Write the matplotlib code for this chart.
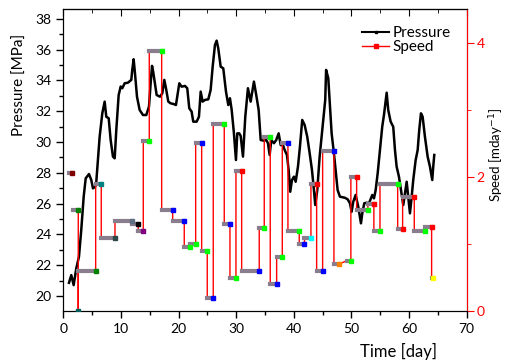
import numpy as np
import matplotlib
matplotlib.use("Agg")
from matplotlib import pyplot as plt
from matplotlib.ticker import MultipleLocator
from matplotlib.lines import Line2D

plt.rcParams['font.family'] = ['Lato', 'DejaVu Sans']

#Pressure data (day, MPa)
day = [0.99, 1.39, 1.8, 2.26, 2.72, 3.12, 3.54, 3.89, 4.46, 4.86, 5.15, 5.55, 5.73,
	6.31, 6.77, 7.18, 7.46, 7.88, 8.22, 8.62, 8.92, 9.2, 9.61, 9.96, 10.24, 10.65,
	11.22, 11.8, 11.97, 12.21, 12.44, 12.79, 13.25, 13.83, 14.4, 14.87, 15.16, 15.4,
	15.6, 15.9, 16.2, 16.78, 17.18, 17.53, 17.82, 18.22, 18.63, 19.09, 19.55, 19.95,
	20.13, 20.54, 21.11, 21.51, 21.86, 22.27, 22.55, 23.14, 23.54, 23.84, 24.18, 24.58,
	25.16, 25.57, 25.92, 26.32, 26.61, 26.89, 27.31, 27.76, 28.23, 28.63, 28.92, 29.22,
	29.61, 29.96, 30.19, 30.53, 30.78, 31.18, 31.58, 32.04, 32.51, 33.08, 33.48, 33.9,
	34.25, 34.82, 35.22, 35.51, 35.81, 36.09, 36.55, 36.95, 37.37, 37.72, 38.12, 38.41,
	38.81, 39.1, 39.38, 39.68, 40.02, 40.32, 40.72, 41.06, 41.46, 41.88, 42.33, 42.75,
	43.15, 43.49, 43.72, 44.07, 44.48, 45.06, 45.45, 45.6, 45.75, 45.98, 46.27, 46.56,
	46.96, 47.31, 47.6, 48.0, 48.87, 49.34, 49.74, 50.03, 50.31, 50.73, 51.18, 51.65,
	51.88, 52.22, 52.64, 53.04, 53.38, 53.61, 53.91, 54.2, 54.55, 54.95, 55.34, 55.64,
	55.93, 56.11, 56.38, 56.8, 57.25, 57.55, 57.84, 58.24, 58.59, 58.99, 59.29, 59.58,
	59.85, 60.15, 60.45, 60.72, 61.14, 61.49, 61.76, 62.06, 62.35, 62.75, 63.22, 63.62,
	64.02, 64.19, 64.37]
pressure = [20.86, 21.36, 20.71, 21.8, 22.55, 24.29, 26.45, 27.64, 27.92, 27.53, 26.99, 27.1, 27.42,
	30.34, 31.86, 32.62, 31.64, 31.54, 30.13, 29.05, 28.94, 30.78, 33.05, 33.6, 33.49, 33.81,
	33.85, 34.03, 34.68, 35.37, 34.46, 32.94, 32.08, 31.75, 31.75, 32.29, 33.81, 34.94,
	34.56, 33.81, 33.05, 32.94, 33.16, 34.03, 33.49, 32.62, 32.51, 32.47, 32.4, 33.38,
	33.81, 33.59, 33.64, 33.49, 32.19, 31.97, 31.32, 31.32, 31.64, 33.27, 32.62, 32.73,
	32.77, 33.38, 34.89, 36.3, 36.58, 36.08, 34.89, 34.78, 33.27, 32.4, 32.84, 32.08,
	30.56, 28.83, 30.56, 30.56, 30.39, 29.05, 31.64, 33.49, 32.62, 33.92, 33.05, 32.08,
	30.13, 30.08, 30.13, 29.92, 29.16, 30.13, 29.92, 30.13, 30.56, 29.8, 29.8, 29.48,
	29.16, 28.18, 26.77, 27.53, 27.75, 27.42, 28.4, 29.69, 31.43, 31.1, 30.34, 29.27,
	28.18, 26.88, 25.91, 26.88, 29.05, 31.21, 32.73, 34.68, 34.46, 34.14, 32.29, 30.56,
	29.27, 27.97, 26.88, 26.45, 26.38, 26.28, 26.02, 25.47, 26.12, 26.56, 25.8, 24.72,
	25.37, 26.02, 26.06, 26.02, 26.34, 26.56, 26.34, 26.88, 27.97, 29.48, 30.99, 31.75,
	32.62, 33.2, 32.08, 31.32, 30.99, 29.48, 28.4, 27.75, 26.88, 25.91, 26.67, 27.42,
	26.45, 25.37, 26.45, 27.53, 28.83, 29.48, 30.78, 31.86, 31.64, 30.34, 29.05, 28.4,
	27.53, 28.4, 29.16]

#Speed data (steps: start day, end day, m/day)
speed_start = [0.95, 1.72, 2.6, 2.6, 5.62, 6.59, 8.97, 11.92, 13.0, 13.88, 14.92, 17.07,
	18.98, 20.99, 21.95, 22.97, 24.01, 24.98, 26.02, 27.93, 28.92, 29.96, 30.95, 34.0,
	34.87, 35.91, 37.02, 38.0, 38.98, 40.94, 41.85, 42.97, 43.96, 45.0, 46.96, 49.17,
	49.9, 50.9, 52.85, 53.89, 54.95, 58.02, 58.88, 60.9, 62.84, 63.91]
speed_end = [1.48, 2.6, 2.6, 5.62, 6.59, 8.97, 11.92, 13.0, 13.88, 14.92, 17.07, 18.98,
	20.99, 21.95, 22.97, 24.01, 24.98, 26.02, 27.93, 28.92, 29.96, 30.95, 34.0, 34.87,
	35.91, 37.02, 38.0, 38.98, 40.94, 41.85, 42.97, 43.96, 45.0, 46.96, 47.83, 49.9,
	50.9, 52.85, 53.89, 54.95, 58.02, 58.88, 60.9, 62.84, 63.91, 64.2]
speed = [2.055, 1.5, 0.0, 0.6, 1.9, 1.09, 1.35, 1.3, 1.2, 2.54, 3.88, 1.5,
	1.35, 0.95, 1.0, 2.5, 0.9, 0.2, 2.79, 1.3, 0.5, 2.09, 0.6, 1.24,
	2.6, 0.4, 0.8, 2.5, 1.2, 1.0, 1.09, 1.9, 0.6, 2.39, 0.7, 0.75,
	2.0, 1.5, 1.6, 1.2, 1.9, 1.22, 1.7, 1.2, 1.25, 0.5]
speed_color = ['#800000', '#008000', '#006060', '#008000', '#008080', '#304848', '#607080', '#000000',
	'#800080', '#00ff00', '#00ff00', '#0000ff', '#0000ff', '#00ff00', '#00ff00', '#0000ff',
	'#00ff00', '#0000ff', '#00ff00', '#0000ff', '#00ff00', '#ff0000', '#0000ff', '#00ff00',
	'#00ff00', '#0000ff', '#00ff00', '#0000ff', '#00ff00', '#0000ff', '#00ffff', '#ff0000',
	'#0000ff', '#0000ff', '#ff8000', '#00ff00', '#ff0000', '#00ff00', '#ff0000', '#00ff00',
	'#00ff00', '#ff0000', '#ff0000', '#00ff00', '#ff0000', '#ffff00']

fig = plt.figure(figsize=(5.05, 3.61), dpi=100)
ax = fig.add_axes([0.1253, 0.1385, 0.7989, 0.8352])
ax.plot(day, pressure, color='k', lw=1.8)
ax.set_xlim(0, 70)
ax.set_ylim(19.03, 38.6)
ax.xaxis.set_major_locator(MultipleLocator(10))
ax.xaxis.set_minor_locator(MultipleLocator(5))
ax.yaxis.set_major_locator(MultipleLocator(2))
ax.yaxis.set_minor_locator(MultipleLocator(1))
ax.tick_params(which='major', direction='out', length=5, width=1, labelsize=10)
ax.tick_params(which='minor', direction='out', length=3, width=1)
ax.set_xlabel("Time [day]", fontsize=12)
ax.xaxis.set_label_coords(0.83, -0.105)
ax.set_ylabel("Pressure [MPa]", fontsize=11)
ax.yaxis.set_label_coords(-0.09, 0.75)

top = ax.secondary_xaxis('top')
top.xaxis.set_major_locator(MultipleLocator(10))
top.xaxis.set_minor_locator(MultipleLocator(5))
top.tick_params(which='major', direction='in', length=5, labeltop=False)
top.tick_params(which='minor', direction='in', length=3)

ax2 = ax.twinx()
ax2.set_ylim(0, 4.5)
ax2.set_xlim(0, 70)
# red connecting line (first short step stands alone)
lx = []
ly = []
for s, e, v in zip(speed_start[1:], speed_end[1:], speed[1:]):
	lx += [s, e]
	ly += [v, v]
ax2.plot(lx, ly, color='r', lw=1, zorder=2)
for s, e, v, c in zip(speed_start, speed_end, speed, speed_color):
	if e > s:
		ax2.plot([s, e], [v, v], color='#8a7d8e', lw=3, solid_capstyle='projecting', zorder=3)
	ax2.plot(e, v, 's', ms=3, color=c, mec=c, zorder=4)

ax2.yaxis.set_major_locator(MultipleLocator(2))
ax2.yaxis.set_minor_locator(MultipleLocator(1))
ax2.spines['right'].set_color('red')
ax2.tick_params(axis='y', which='major', direction='out', length=5, pad=2, colors='red', labelsize=10)
ax2.tick_params(axis='y', which='minor', direction='out', length=3, colors='red')
ax2.set_ylabel("Speed [mday$^{-1}$]", fontsize=9.5)
ax2.yaxis.set_label_coords(1.052, 0.517)

handles = [Line2D([], [], color='k', lw=1.5, marker='s', ms=2),
	Line2D([], [], color='r', lw=1, marker='s', ms=3)]
ax2.legend(handles, ["Pressure", "Speed"], loc='upper left', bbox_to_anchor=(0.74, 0.945),
	frameon=False, fontsize=11, borderpad=0, borderaxespad=0, handlelength=1.8,
	handletextpad=0.2, labelspacing=0.0)

fig.savefig("out.png", dpi=100)
